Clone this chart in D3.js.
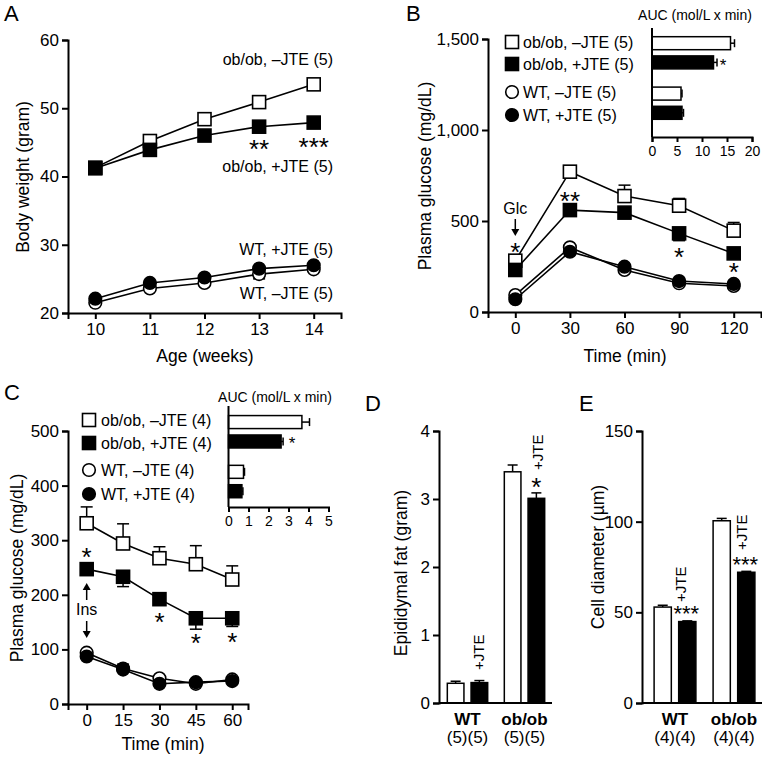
<!DOCTYPE html>
<html><head><meta charset="utf-8">
<script src="https://cdn.jsdelivr.net/npm/d3@7"></script>
<style>
body{margin:0;background:#fff;}
text{font-family:"Liberation Sans",Arial,Helvetica,sans-serif;fill:#000;}
</style></head>
<body>
<script>
// ---------- DATA ----------
// Panel A: body weight
const weeks = [10, 11, 12, 13, 14];
const bwObMinus = [41.3, 45.2, 48.4, 50.9, 53.5];
const bwObPlus  = [41.2, 43.9, 46.0, 47.3, 47.9];
const bwWtMinus = [21.5, 23.6, 24.4, 25.7, 26.4];
const bwWtPlus  = [22.1, 24.4, 25.2, 26.5, 27.0];
const bwWtMinusErr = [0.2, 0.2, 0.2, 0.7, 0.3];
const bwTicksY = [20, 30, 40, 50, 60];

// Panel B: glucose tolerance
const gttTime = [0, 30, 60, 90, 120];
const gttObMinus = [282, 771, 637, 584, 447];
const gttObMinusErr = [15, 12, 60, 40, 45];
const gttObPlus = [231, 560, 546, 432, 322];
const gttObPlusErr = [10, 15, 10, 40, 12];
const gttWtMinus = [93, 355, 231, 158, 143];
const gttWtPlus = [70, 331, 249, 170, 154];
const gttTicksY = [0, 500, 1000, 1500];
const groups4 = ["ob/ob, \u2013JTE", "ob/ob, +JTE", "WT, \u2013JTE", "WT, +JTE"];
const nB = [5, 5, 5, 5];
const aucB = [15.7, 12.3, 5.8, 6.0];
const aucBErr = [0.8, 0.7, 0.2, 0.3];
const aucBTicks = [0, 5, 10, 15, 20];

// Panel C: insulin tolerance
const ittTime = [0, 15, 30, 45, 60];
const ittObMinus = [331, 294, 267, 256, 228];
const ittObMinusErr = [30, 36, 21, 34, 25];
const ittObPlus = [247, 233, 192, 157, 157];
const ittObPlusErr = [8, 18, 8, 20, 15];
const ittWtMinus = [94, 65, 47, 37, 45];
const ittWtPlus = [87, 63, 37, 40, 42];
const ittWtPlusErr = [4, 10, 4, 4, 4];
const ittTicksY = [0, 100, 200, 300, 400, 500];
const nC = [4, 4, 4, 4];
const aucC = [3.67, 2.63, 0.75, 0.67];
const aucCErr = [0.38, 0.1, 0.05, 0.05];
const aucCTicks = [0, 1, 2, 3, 4, 5];

// Panel D: epididymal fat
const genotypes = ["WT", "ob/ob"];
const treatments = ["-JTE", "+JTE"];
const fatMinus = [0.29, 3.40];
const fatPlus = [0.30, 3.01];
const fatMinusErr = [0.03, 0.10];
const fatPlusErr = [0.03, 0.08];
const nD = [[5, 5], [5, 5]];
const fatTicks = [0, 1, 2, 3, 4];

// Panel E: cell diameter
const diamMinus = [52.9, 100.5];
const diamPlus = [44.9, 72.1];
const diamMinusErr = [1.0, 1.3];
const diamPlusErr = [0.4, 0.5];
const nE = [[4, 4], [4, 4]];
const diamTicks = [0, 50, 100, 150];

// ---------- DRAW ----------
const svg = d3.select("body").append("svg").attr("width", 762).attr("height", 758);
const TICK_FS = 17, TITLE_FS = 17.5, LAB_FS = 16;

function styleAxis(g, fs) {
  g.selectAll("path.domain").attr("stroke", "#000").attr("stroke-width", 2);
  g.selectAll(".tick line").attr("stroke", "#000").attr("stroke-width", 2);
  g.selectAll(".tick text").attr("font-size", fs).attr("font-family", '"Liberation Sans",Arial,sans-serif').attr("fill", "#000");
}
function axisL(scale, x, ticks, fmt, fs, size) {
  const g = svg.append("g").attr("transform", `translate(${x},0)`)
    .call(d3.axisLeft(scale).tickValues(ticks).tickFormat(fmt).tickSizeOuter(0).tickSize(size || 6).tickPadding(3));
  styleAxis(g, fs || TICK_FS); return g;
}
function axisB(scale, y, ticks, fmt, fs, size) {
  const g = svg.append("g").attr("transform", `translate(0,${y})`)
    .call(d3.axisBottom(scale).tickValues(ticks).tickFormat(fmt).tickSizeOuter(0).tickSize(size || 6).tickPadding(4));
  styleAxis(g, fs || TICK_FS); return g;
}
function text(x, y, s, opt) {
  opt = opt || {};
  const t = svg.append("text").attr("x", x).attr("y", y).text(s)
    .attr("font-size", opt.fs || LAB_FS).attr("text-anchor", opt.anchor || "start");
  if (opt.bold) t.attr("font-weight", "bold");
  if (opt.rot) t.attr("transform", `rotate(${opt.rot},${x},${y})`);
  if (opt.baseline) t.attr("dominant-baseline", opt.baseline);
  return t;
}
function ytitle(x, y, s) { text(x, y, s, {fs: TITLE_FS, anchor: "middle", rot: -90, baseline: "central"}); }
function star(x, yc, s, fs) { fs = fs || 26; text(x, yc + fs * 0.55, s, {fs: fs, anchor: "middle"}); }
function panelLetter(x, y, s) { text(x, y, s, {fs: 22}); }

function marker(g, shape, filled, cx, cy) {
  if (shape === "sq") {
    g.append("rect").attr("x", cx - 6.5).attr("y", cy - 6.5).attr("width", 13).attr("height", 13)
      .attr("fill", filled ? "#000" : "#fff").attr("stroke", "#000").attr("stroke-width", 1.6);
  } else {
    g.append("circle").attr("cx", cx).attr("cy", cy).attr("r", 6.3)
      .attr("fill", filled ? "#000" : "#fff").attr("stroke", "#000").attr("stroke-width", 1.6);
  }
}
function series(x, y, xs, ys, shape, filled, errs, dir) {
  const g = svg.append("g");
  if (errs) {
    xs.forEach((xv, i) => {
      const e = errs[i] * dir;
      const y0 = y(ys[i]), y1 = y(ys[i] + e);
      g.append("line").attr("x1", x(xv)).attr("x2", x(xv)).attr("y1", y0).attr("y2", y1).attr("stroke", "#000").attr("stroke-width", 1.5);
      g.append("line").attr("x1", x(xv) - 6).attr("x2", x(xv) + 6).attr("y1", y1).attr("y2", y1).attr("stroke", "#000").attr("stroke-width", 1.5);
    });
  }
  const line = d3.line().x((d, i) => x(xs[i])).y(d => y(d));
  g.append("path").attr("d", line(ys)).attr("fill", "none").attr("stroke", "#000").attr("stroke-width", 1.6);
  xs.forEach((xv, i) => marker(g, shape, filled, x(xv), y(ys[i])));
}

// ===== Panel A =====
{
  const x = d3.scaleLinear().domain([9.5, 14.5]).range([68, 341]);
  const y = d3.scaleLinear().domain([20, 60]).range([313, 40]);
  axisL(y, 68, bwTicksY, d3.format("d"));
  axisB(x, 313, weeks, d3.format("d"));
  series(x, y, weeks, bwWtMinus, "ci", false, bwWtMinusErr, -1);
  series(x, y, weeks, bwWtPlus, "ci", true);
  series(x, y, weeks, bwObMinus, "sq", false);
  series(x, y, weeks, bwObPlus, "sq", true);
  text(333, 65, "ob/ob, \u2013JTE (5)", {anchor: "end"});
  text(333, 172, "ob/ob, +JTE (5)", {anchor: "end"});
  text(333, 255, "WT, +JTE (5)", {anchor: "end"});
  text(333, 299, "WT, \u2013JTE (5)", {anchor: "end"});
  star(x(13), 144, "**");
  star(x(14), 142, "***");
  text(205, 362, "Age (weeks)", {fs: TITLE_FS, anchor: "middle"});
  ytitle(23, 177, "Body weight (gram)");
  panelLetter(4, 21, "A");
}

// ===== Panel B =====
{
  const x = d3.scaleLinear().domain([-15, 135]).range([488, 761]);
  const y = d3.scaleLinear().domain([0, 1500]).range([312, 39]);
  axisL(y, 488, gttTicksY, d3.format(",d"));
  axisB(x, 312, gttTime, d3.format("d"));
  series(x, y, gttTime, gttWtMinus, "ci", false);
  series(x, y, gttTime, gttWtPlus, "ci", true);
  series(x, y, gttTime, gttObMinus, "sq", false, gttObMinusErr, 1);
  series(x, y, gttTime, gttObPlus, "sq", true, gttObPlusErr, -1);
  // Glc arrow
  const ax = x(0);
  text(ax, 214, "Glc", {anchor: "middle"});
  svg.append("line").attr("x1", ax).attr("x2", ax).attr("y1", 219).attr("y2", 232).attr("stroke", "#000").attr("stroke-width", 1.5);
  svg.append("path").attr("d", `M${ax - 4},${229} L${ax + 4},${229} L${ax},${236} Z`).attr("fill", "#000");
  star(x(0), 247, "*");
  star(x(30), 196, "**");
  star(x(90), 252, "*");
  star(x(120), 267, "*");
  // legend
  const shapes = ["sq", "sq", "ci", "ci"], fills = [false, true, false, true];
  const ly = [42, 64, 92, 115];
  groups4.forEach((gname, i) => {
    marker(svg, shapes[i], fills[i], 512, ly[i]);
    text(523, ly[i] + 6, `${gname} (${nB[i]})`);
  });
  text(625, 362, "Time (min)", {fs: TITLE_FS, anchor: "middle"});
  ytitle(425, 176, "Plasma glucose (mg/dL)");
  panelLetter(406, 21, "B");
  // inset
  const ix = d3.scaleLinear().domain([0, 20]).range([652, 752]);
  const gy = d3.scaleBand().domain(["ob/ob", "WT"]).range([27.6, 128.4]);
  const inner = [-9.6, 9.6];
  aucB.forEach((v, i) => {
    const cy = gy.bandwidth() / 2 + gy(i < 2 ? "ob/ob" : "WT") + inner[i % 2];
    svg.append("line").attr("x1", ix(v)).attr("x2", ix(v + aucBErr[i])).attr("y1", cy).attr("y2", cy).attr("stroke", "#000").attr("stroke-width", 1.5);
    svg.append("line").attr("x1", ix(v + aucBErr[i])).attr("x2", ix(v + aucBErr[i])).attr("y1", cy - 4).attr("y2", cy + 4).attr("stroke", "#000").attr("stroke-width", 1.5);
    svg.append("rect").attr("x", ix(0)).attr("y", cy - 6.5).attr("width", ix(v) - ix(0)).attr("height", 13)
      .attr("fill", i % 2 ? "#000" : "#fff").attr("stroke", "#000").attr("stroke-width", 1.5);
  });
  svg.append("line").attr("x1", 652).attr("x2", 652).attr("y1", 28).attr("y2", 137).attr("stroke", "#000").attr("stroke-width", 2);
  axisB(ix, 137, aucBTicks, d3.format("d"), 14, 5);
  text(723, 71, "*", {fs: 17, anchor: "middle"});
  text(695, 20, "AUC (mol/L x min)", {fs: 14, anchor: "middle"});
}

// ===== Panel C =====
{
  const x = d3.scaleLinear().domain([-7.7, 66.5]).range([68, 248]);
  const y = d3.scaleLinear().domain([0, 500]).range([704, 431]);
  axisL(y, 68, ittTicksY, d3.format("d"));
  axisB(x, 704, ittTime, d3.format("d"));
  series(x, y, ittTime, ittWtMinus, "ci", false);
  series(x, y, ittTime, ittWtPlus, "ci", true, ittWtPlusErr, 1);
  series(x, y, ittTime, ittObMinus, "sq", false, ittObMinusErr, 1);
  series(x, y, ittTime, ittObPlus, "sq", true, ittObPlusErr, -1);
  const ax = x(0);
  text(ax, 615, "Ins", {anchor: "middle"});
  svg.append("line").attr("x1", ax).attr("x2", ax).attr("y1", 600).attr("y2", 587).attr("stroke", "#000").attr("stroke-width", 1.5);
  svg.append("path").attr("d", `M${ax - 4},${590} L${ax + 4},${590} L${ax},${583} Z`).attr("fill", "#000");
  svg.append("line").attr("x1", ax).attr("x2", ax).attr("y1", 621).attr("y2", 634).attr("stroke", "#000").attr("stroke-width", 1.5);
  svg.append("path").attr("d", `M${ax - 4},${631} L${ax + 4},${631} L${ax},${638} Z`).attr("fill", "#000");
  star(x(0), 552, "*");
  star(x(30), 617, "*");
  star(x(45), 638, "*");
  star(x(60), 637, "*");
  const shapes = ["sq", "sq", "ci", "ci"], fills = [false, true, false, true];
  const ly = [420, 443, 470, 494];
  groups4.forEach((gname, i) => {
    marker(svg, shapes[i], fills[i], 89, ly[i]);
    text(101, ly[i] + 6, `${gname} (${nC[i]})`);
  });
  text(163, 750, "Time (min)", {fs: TITLE_FS, anchor: "middle"});
  ytitle(17, 568, "Plasma glucose (mg/dL)");
  panelLetter(4, 400, "C");
  // inset
  const ix = d3.scaleLinear().domain([0, 5]).range([228.5, 328.5]);
  const gy = d3.scaleBand().domain(["ob/ob", "WT"]).range([406.9, 506.4]);
  const inner = [-9.7, 9.7];
  aucC.forEach((v, i) => {
    const cy = gy.bandwidth() / 2 + gy(i < 2 ? "ob/ob" : "WT") + inner[i % 2];
    svg.append("line").attr("x1", ix(v)).attr("x2", ix(v + aucCErr[i])).attr("y1", cy).attr("y2", cy).attr("stroke", "#000").attr("stroke-width", 1.5);
    svg.append("line").attr("x1", ix(v + aucCErr[i])).attr("x2", ix(v + aucCErr[i])).attr("y1", cy - 4).attr("y2", cy + 4).attr("stroke", "#000").attr("stroke-width", 1.5);
    svg.append("rect").attr("x", ix(0)).attr("y", cy - 6.5).attr("width", ix(v) - ix(0)).attr("height", 13)
      .attr("fill", i % 2 ? "#000" : "#fff").attr("stroke", "#000").attr("stroke-width", 1.5);
  });
  svg.append("line").attr("x1", 228.5).attr("x2", 228.5).attr("y1", 406).attr("y2", 507).attr("stroke", "#000").attr("stroke-width", 2);
  axisB(ix, 507, aucCTicks, d3.format("d"), 14, 5);
  text(292, 449, "*", {fs: 17, anchor: "middle"});
  text(275, 402, "AUC (mol/L x min)", {fs: 14, anchor: "middle"});
}

// ===== Bar panels =====
function barPanel(opts) {
  const y = d3.scaleLinear().domain(opts.domain).range([703, 431]);
  const gx = d3.scaleBand().domain(genotypes).range(opts.xr);
  const tx = d3.scaleBand().domain(treatments).range([0, gx.bandwidth()]).paddingInner(opts.innerPad).paddingOuter(opts.outerPad);
  const vals = [opts.minus, opts.plus], errs = [opts.minusErr, opts.plusErr];
  genotypes.forEach((gname, gi) => {
    treatments.forEach((t, ti) => {
      const v = vals[ti][gi], e = errs[ti][gi];
      const bx = gx(gname) + tx(t), bw = tx.bandwidth();
      const cx = bx + bw / 2;
      svg.append("line").attr("x1", cx).attr("x2", cx).attr("y1", y(v)).attr("y2", y(v + e)).attr("stroke", "#000").attr("stroke-width", 1.5);
      svg.append("line").attr("x1", cx - 5).attr("x2", cx + 5).attr("y1", y(v + e)).attr("y2", y(v + e)).attr("stroke", "#000").attr("stroke-width", 1.5);
      svg.append("rect").attr("x", bx).attr("y", y(v)).attr("width", bw).attr("height", y(0) - y(v))
        .attr("fill", ti ? "#000" : "#fff").attr("stroke", "#000").attr("stroke-width", 1.5);
    });
    const cx = gx(gname) + gx.bandwidth() / 2;
    text(cx, 725, gname, {fs: 17, anchor: "middle", bold: true});
    text(cx, 743, `(${opts.n[gi][0]})(${opts.n[gi][1]})`, {fs: 17, anchor: "middle"});
  });
  axisL(y, opts.ax, opts.ticks, d3.format("d"));
  svg.append("line").attr("x1", opts.ax).attr("x2", opts.xend).attr("y1", 703).attr("y2", 703).attr("stroke", "#000").attr("stroke-width", 2);
  return {y, gx, tx};
}

// Panel D
{
  const p = barPanel({domain: [0, 4], xr: [439, 553], innerPad: 0.3, outerPad: 0.35, minus: fatMinus, plus: fatPlus,
    minusErr: fatMinusErr, plusErr: fatPlusErr, n: nD, ticks: fatTicks, ax: 439, xend: 552});
  const px = (g) => p.gx(g) + p.tx("+JTE") + p.tx.bandwidth() / 2;
  text(px("WT") + 5, 670, "+JTE", {fs: 15, rot: -90});
  text(px("ob/ob") + 7, 470, "+JTE", {fs: 15, rot: -90});
  star(px("ob/ob"), 482, "*");
  ytitle(401, 573, "Epididymal fat (gram)");
  panelLetter(365, 411, "D");
}
// Panel E
{
  const p = barPanel({domain: [0, 150], xr: [645.5, 763.5], innerPad: 0.3, outerPad: 0.35, minus: diamMinus, plus: diamPlus,
    minusErr: diamMinusErr, plusErr: diamPlusErr, n: nE, ticks: diamTicks, ax: 642, xend: 762});
  const px = (g) => p.gx(g) + p.tx("+JTE") + p.tx.bandwidth() / 2;
  text(px("WT") - 1, 602, "+JTE", {fs: 15, rot: -90});
  text(px("ob/ob") + 1, 550, "+JTE", {fs: 15, rot: -90});
  star(px("ob/ob") - 1, 560, "***", 22);
  star(px("WT") - 1, 609, "***", 22);
  ytitle(598, 557, "Cell diameter (\u00b5m)");
  panelLetter(579, 411, "E");
}
</script>
</body></html>
